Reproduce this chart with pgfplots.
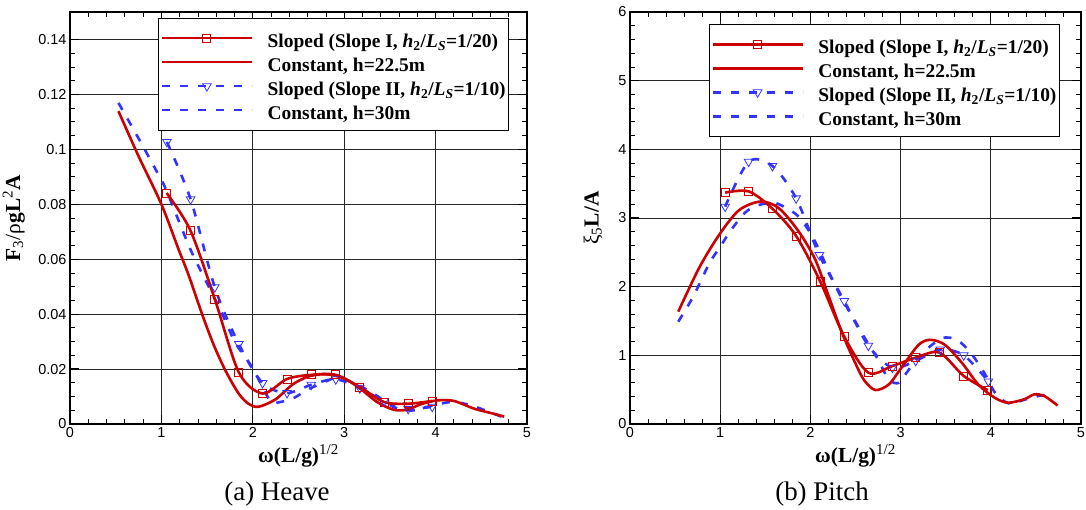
\documentclass[border=0pt]{standalone}
\usepackage{pgfplots}
\pgfplotsset{compat=1.18}
\usepackage{pgfplotstable}
\usepackage{fontspec}
\setmainfont{Liberation Serif}
\newfontfamily\arialfont{Liberation Sans}
\definecolor{myred}{RGB}{204,0,0}
\definecolor{myblue}{RGB}{51,51,255}

\pgfplotstableread{
x y
1.057 0.0841
1.317 0.0705
1.584 0.0455
1.847 0.0188
2.107 0.0111
2.375 0.0164
2.640 0.0179
2.908 0.0179
3.170 0.0135
3.437 0.0080
3.700 0.0074
3.963 0.0084
}\hsone
\pgfplotstableread{
x y
0.53 0.1139
0.75 0.0975
1.00 0.0800
1.19 0.0634
1.30 0.0540
1.445 0.0400
1.57 0.0290
1.70 0.0195
1.847 0.0110
1.96 0.0072
2.066 0.0063
2.25 0.0090
2.44 0.0145
2.62 0.0174
2.80 0.0181
2.99 0.0167
3.17 0.0130
3.36 0.0080
3.54 0.0052
3.69 0.0052
3.84 0.0072
4.02 0.0086
4.20 0.0084
4.42 0.0056
4.64 0.0037
4.75 0.0027
}\hcone
\pgfplotstableread{
x y
1.060 0.1027
1.320 0.0818
1.584 0.0498
1.847 0.0291
2.107 0.0149
2.375 0.0113
2.640 0.0143
2.908 0.0163
3.170 0.0130
3.437 0.0084
3.700 0.0055
3.963 0.0063
}\hstwo
\pgfplotstableread{
x y
0.53 0.1169
0.75 0.1040
0.964 0.0910
1.055 0.0850
1.29 0.0657
1.39 0.0585
1.518 0.0500
1.68 0.0390
1.81 0.0295
1.974 0.0216
2.10 0.0140
2.20 0.0080
2.30 0.0080
2.45 0.0095
2.60 0.0125
2.78 0.0152
2.915 0.0168
3.10 0.0150
3.32 0.0111
3.54 0.0062
3.74 0.0049
3.90 0.0062
4.17 0.0080
4.39 0.0068
4.59 0.0043
4.72 0.0027
}\hctwo
\pgfplotstableread{
x y
1.055 3.369
1.315 3.388
1.579 3.136
1.842 2.738
2.106 2.083
2.376 1.270
2.643 0.748
2.909 0.845
3.167 0.966
3.430 1.040
3.700 0.700
3.966 0.495
}\psone
\pgfplotstableread{
x y
0.535 1.636
0.773 2.290
1.000 2.777
1.212 3.117
1.450 3.240
1.652 3.141
1.872 2.800
2.055 2.390
2.200 1.870
2.350 1.330
2.500 0.880
2.600 0.630
2.720 0.495
2.870 0.577
3.020 0.840
3.200 1.154
3.330 1.226
3.490 1.154
3.680 0.890
3.860 0.577
4.040 0.385
4.190 0.310
4.370 0.360
4.480 0.430
4.590 0.410
4.740 0.270
}\pcone
\pgfplotstableread{
x y
1.055 3.165
1.315 3.820
1.579 3.757
1.842 3.286
2.099 2.460
2.376 1.790
2.643 1.140
2.909 0.820
3.167 0.920
3.440 1.085
3.700 1.000
3.973 0.620
}\pstwo
\pgfplotstableread{
x y
0.535 1.490
0.700 1.854
0.880 2.340
1.000 2.580
1.120 2.825
1.286 3.090
1.430 3.190
1.600 3.220
1.740 3.140
1.870 3.020
2.000 2.780
2.110 2.500
2.220 2.170
2.340 1.850
2.490 1.510
2.640 1.170
2.740 0.960
2.870 0.650
2.980 0.600
3.090 0.790
3.240 1.030
3.460 1.250
3.630 1.220
3.780 1.030
3.930 0.740
4.050 0.450
4.200 0.300
4.390 0.360
4.580 0.420
4.680 0.360
}\pctwo

\pgfplotsset{
  myaxis/.style={
    scale only axis, height=412bp,
    xmin=0, xmax=5, xtick={0,1,2,3,4,5}, xticklabels={0,1,2,3,4,5},
    minor x tick num=4,
    tick align=inside, major tick length=9bp, minor tick length=5bp,
    major tick style={black, line width=1.2bp},
    minor tick style={black, line width=0.8bp},
    grid=major, grid style={black!85, line width=0.8bp},
    axis line style={line width=1.6bp},
    scaled ticks=false,
    tick label style={font=\arialfont\fontsize{14.5}{16}\selectfont},
    label style={font=\fontsize{21.5}{25}\selectfont},
    xlabel={\textbf{ω(L/g)}\textsuperscript{1/2}},
    x label style={at={(axis description cs:0.5,-0.078)}, anchor=center},
    legend cell align=left,
    legend style={font=\bfseries\fontsize{19.5}{22}\selectfont, draw=black, line width=0.8bp, fill=white,
      inner xsep=2bp, inner ysep=8bp, row sep=0bp,
      nodes={inner sep=0.5bp, text height=21bp, text depth=2bp}, anchor=north west,
      /tikz/every odd column/.append style={column sep=14bp}},
    legend image code/.code={\draw[mark repeat=2,mark phase=2,##1] plot coordinates {(0bp,0bp) (45bp,0bp) (90bp,0bp)};},
  },
  redsl/.style={myred, line width=2.6bp, mark=square, mark size=4bp, mark options={solid, line width=0.8bp}},
  redc/.style={myred, line width=2.6bp},
  bluesl/.style={myblue, line width=2.6bp, dash pattern=on 8bp off 10bp, mark=triangle, mark size=5bp, mark options={solid, rotate=180, line width=0.8bp}},
  bluec/.style={myblue, line width=2.6bp, dash pattern=on 8bp off 10bp},
}

\begin{document}
\begin{tikzpicture}
\begin{axis}[myaxis, at={(70bp,86bp)}, anchor=south west, width=457bp,
  ymin=0, ymax=0.15, ytick={0,0.02,0.04,0.06,0.08,0.1,0.12,0.14},
  yticklabels={0,0.02,0.04,0.06,0.08,0.1,0.12,0.14}, minor y tick num=3,
  ylabel={\textbf{F}\textsubscript{3}/ρ\textbf{gL}\textsuperscript{2}\textbf{A}},
  y label style={at={(axis description cs:-0.123,0.5)}, anchor=center},
  legend style={at={(axis description cs:0.193,0.986)}}]
\addlegendimage{redsl}
\addlegendentry{Sloped (Slope I, \textit{h}\textsubscript{2}/\textit{L}\textsubscript{\textit{S}}=1/20)}
\addlegendimage{redc}
\addlegendentry{Constant, h=22.5m}
\addlegendimage{bluesl}
\addlegendentry{Sloped (Slope II, \textit{h}\textsubscript{2}/\textit{L}\textsubscript{\textit{S}}=1/10)}
\addlegendimage{bluec}
\addlegendentry{Constant, h=30m}
\addplot[bluec, smooth, forget plot] table {\hctwo};
\addplot[bluesl, smooth, forget plot] table {\hstwo};
\addplot[redc, smooth, forget plot] table {\hcone};
\addplot[redsl, smooth, forget plot] table {\hsone};
\end{axis}
\begin{axis}[myaxis, at={(630bp,86bp)}, anchor=south west, width=451bp,
  ymin=0, ymax=6, ytick={0,1,2,3,4,5,6}, yticklabels={0,1,2,3,4,5,6}, minor y tick num=4,
  ylabel={ξ\textsubscript{5}\textbf{L/A}},
  y label style={at={(axis description cs:-0.082,0.5)}, anchor=center},
  legend style={at={(axis description cs:0.175,0.971)}}]
\addlegendimage{redsl}
\addlegendentry{Sloped (Slope I, \textit{h}\textsubscript{2}/\textit{L}\textsubscript{\textit{S}}=1/20)}
\addlegendimage{redc}
\addlegendentry{Constant, h=22.5m}
\addlegendimage{bluesl}
\addlegendentry{Sloped (Slope II, \textit{h}\textsubscript{2}/\textit{L}\textsubscript{\textit{S}}=1/10)}
\addlegendimage{bluec}
\addlegendentry{Constant, h=30m}
\addplot[bluec, smooth, forget plot] table {\pctwo};
\addplot[bluesl, smooth, forget plot] table {\pstwo};
\addplot[redc, smooth, forget plot] table {\pcone};
\addplot[redsl, smooth, forget plot] table {\psone};
\end{axis}
\node[font=\fontsize{27}{30}\selectfont] at (277bp,16bp) {(a) Heave};
\node[font=\fontsize{27}{30}\selectfont] at (822bp,16bp) {(b) Pitch};
\pgfresetboundingbox
\path[use as bounding box] (0,0) rectangle (1086bp,510bp);
\end{tikzpicture}
\end{document}
